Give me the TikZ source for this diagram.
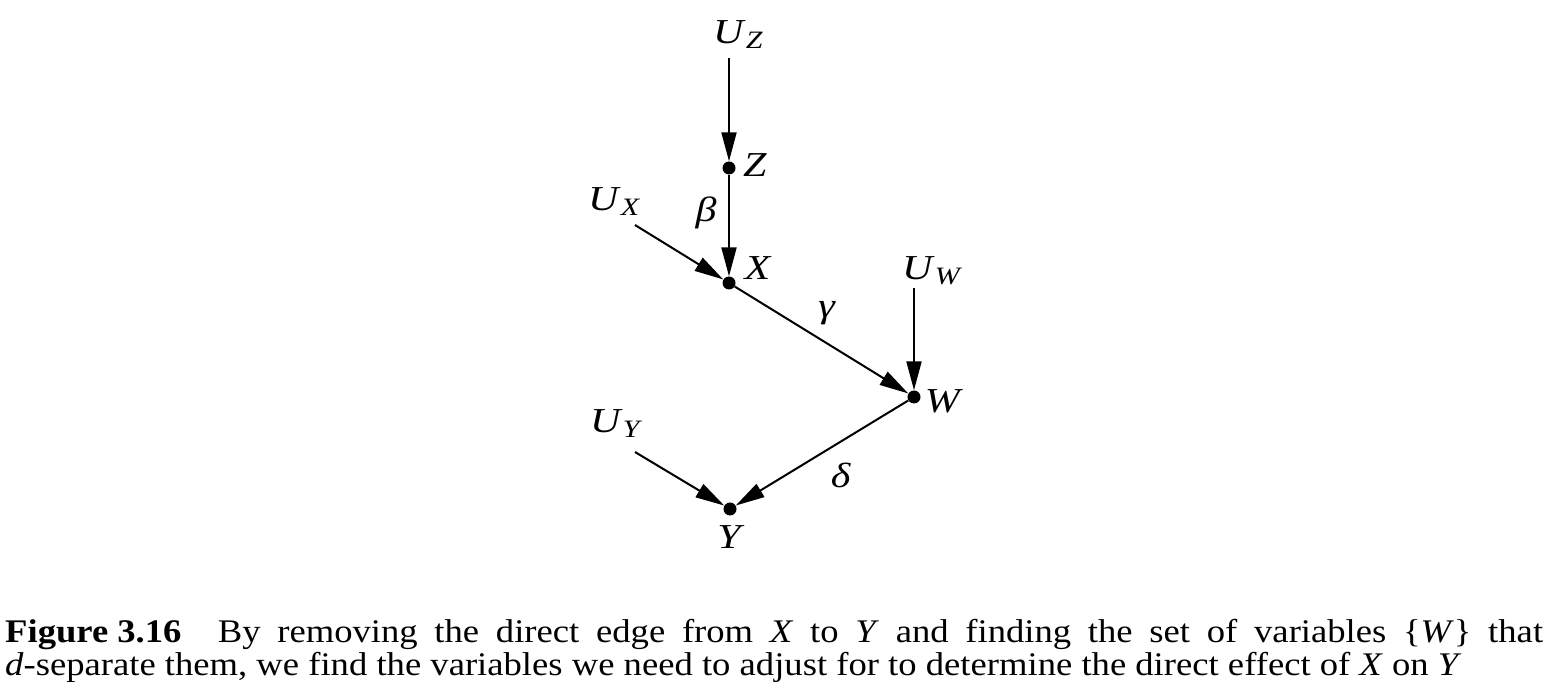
\documentclass[tikz,border=0pt]{standalone}
\usepackage{fontspec}
\setmainfont[FakeStretch=1.11]{Liberation Serif}
\newfontfamily\labfont[FakeStretch=1.2]{Liberation Serif}
\usetikzlibrary{arrows.meta}
\newcommand{\Lsz}{\labfont\fontsize{35}{40}\selectfont}
\newcommand{\Ssz}{\fontsize{25}{28}\selectfont}
\newcommand{\Uvar}[1]{\textit{U}\raisebox{-5pt}{\Ssz\textit{#1}}}
\begin{document}
\begin{tikzpicture}[x=1pt,y=-1pt,
  dotnode/.style={circle,fill=black,inner sep=0pt,minimum size=13pt},
  lab/.style={inner sep=0pt,font=\Lsz},
  edge/.style={line width=2pt,-{Triangle[length=29pt,width=15pt]}},
  caption/.style={inner sep=0pt,anchor=north west,text width=1538pt,align=justify,font=\fontsize{33}{33}\selectfont}]
\useasboundingbox (0,0) rectangle (1551,700);
% dots
\node[dotnode] (z) at (729,168) {};
\node[dotnode] (x) at (729,283) {};
\node[dotnode] (w) at (914,397) {};
\node[dotnode] (y) at (730,509) {};
% labels
\node[lab,anchor=base west] (uz) at (713,44) {\Uvar{Z}};
\node[lab,anchor=base west] (ux) at (588,211) {\Uvar{X}};
\node[lab,anchor=base west] (uw) at (902,280) {\Uvar{W}};
\node[lab,anchor=base west] (uy) at (590,433) {\Uvar{Y}};
\node[lab] (zl) at (755,165) {\textit{Z}};
\node[lab] (xl) at (758,268) {\textit{X}};
\node[lab] (wl) at (944,401) {\textit{W}};
\node[lab] (yl) at (731,537) {\textit{Y}};
\node[lab,anchor=base] (bl) at (706,222) {\textit{β}};
\node[lab,anchor=base] (gl) at (827,318) {\textit{γ}};
\node[lab,anchor=base] (dl) at (841,487) {\textit{δ}};
% arrow starts
\coordinate (uzs) at (729,58);
\coordinate (uxs) at (635,225);
\coordinate (uws) at (914,288);
\coordinate (uys) at (635,452);
% edges
\draw[edge] (uzs) -- (z);
\draw[edge] (z) -- (x);
\draw[edge] (uxs) -- (x);
\draw[edge] (x) -- (w);
\draw[edge] (uws) -- (w);
\draw[edge] (w) -- (y);
\draw[edge] (uys) -- (y);
% caption
\node[caption] (cap) at (5,619) {\mbox{\textbf{Figure 3.16}}\hspace{1.1em}By removing the direct edge from \textit{X} to \textit{Y} and finding the set of variables \{\textit{W}\} that\linebreak \textit{d}-separate them, we find the variables we need to adjust for to determine the direct effect of \textit{X} on \textit{Y}};
\end{tikzpicture}
\end{document}
